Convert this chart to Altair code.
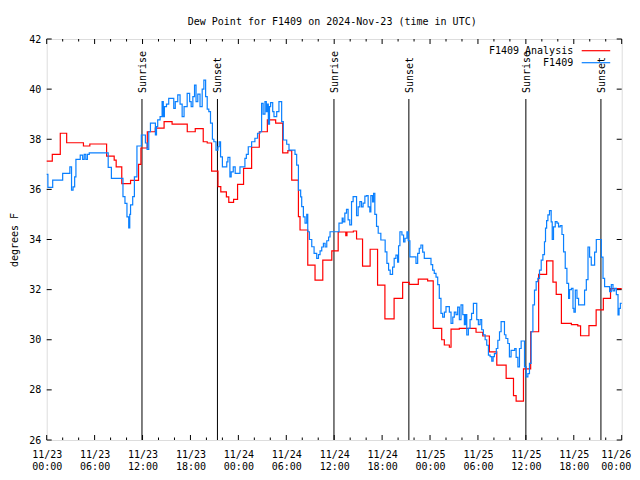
import altair as alt
import pandas as pd

# ---------------- data (hours since 2024-11-23 00:00 UTC, degrees F) ----------------
red_hours = [0, 0.7, 1.7, 2.5, 4.6, 5.4, 7.5, 8.45, 8.7, 9.4, 10.5, 11.5, 11.8, 12.6, 13.6,
             14.7, 15.7, 17.6, 18.6, 19.6, 20.1, 20.65, 21.45, 21.8, 22.5, 22.8, 23.4, 23.9,
             24.65, 25.66, 26.62, 27.63, 28.67, 29.55, 30.2, 30.68, 31.52, 31.72, 32.69, 33.6,
             34.57, 35.7, 36.5, 37.45, 37.6, 38.4, 38.8, 39.55, 40.5, 41.43, 42.35, 43.5, 44.57,
             45.4, 46.53, 47.7, 48.4, 49.46, 49.79, 50.42, 50.63, 51.67, 53.76, 54.6, 55.43,
             56.36, 57.53, 58.45, 58.78, 59.7, 60.6, 61.6, 62.6, 63.39, 63.8, 64.45, 65.7, 66.5,
             66.85, 67.9, 68.8, 69.7, 70.6, 72]
red_values = [37.13, 37.40, 38.24, 37.86, 37.73, 37.81, 37.33, 37.17, 36.9, 36.23, 36.36, 37.0,
              37.65, 38.3, 38.44, 38.70, 38.6, 38.3, 38.42, 37.9, 37.85, 36.73, 36.11, 35.9,
              35.7, 35.48, 35.6, 36.2, 36.84, 37.68, 38.3, 38.77, 38.64, 37.46, 37.55, 36.37,
              34.91, 34.38, 32.98, 32.38, 33.18, 33.55, 34.3, 34.15, 34.3, 34.34, 34.02, 32.94,
              33.61, 32.18, 30.83, 31.65, 32.29, 32.21, 32.42, 32.35, 30.45, 30.0, 29.79, 29.7,
              30.42, 30.45, 30.3, 30.15, 29.52, 28.99, 28.46, 27.77, 27.55, 28.84, 30.32, 32.61,
              33.15, 32.3, 31.81, 30.65, 30.6, 30.55, 30.16, 30.56, 31.19, 31.65, 32.04, 32.04]

blue_hours = [0, 0.15, 0.75, 2.0, 2.9, 3.11, 3.3, 3.5, 3.66, 4.2, 4.5, 4.7, 4.9, 5.1, 5.33, 7.7,
              8.1, 9.55, 9.8, 10.05, 10.27, 10.4, 10.5, 10.77, 10.98, 11.3, 11.85, 12.36, 12.57,
              12.78, 12.99, 13.61, 13.75, 13.9, 14.2, 14.45, 14.6, 14.74, 15.0, 15.28, 15.91,
              16.1, 16.41, 16.7, 16.96, 17.2, 17.59, 17.9, 18.09, 18.3, 18.51, 18.7, 18.92, 19.2,
              19.47, 19.68, 19.9, 20.1, 20.3, 20.51, 20.75, 20.93, 21.2, 21.45, 21.6, 21.77,
              22.0, 22.55, 22.69, 22.94, 23.1, 23.36, 23.6, 24.2, 24.82, 25.0, 25.24, 25.66,
              26.07, 26.4, 26.7, 26.91, 27.1, 27.33, 27.5, 27.6, 27.75, 27.9, 28.04, 28.3, 28.46,
              28.8, 29.08, 29.42, 29.63, 30.05, 30.34, 31.09, 31.3, 31.52, 31.8, 31.93, 32.14,
              32.35, 32.56, 32.69, 32.9, 33.19, 33.48, 33.81, 34.03, 34.23, 34.44, 34.65, 34.86,
              35.07, 35.3, 35.48, 36.6, 37.0, 37.12, 37.33, 37.54, 37.74, 37.95, 38.17, 38.37,
              38.8, 39.0, 39.21, 39.42, 39.62, 39.84, 40.05, 40.25, 40.46, 40.59, 40.8, 40.93,
              41.09, 41.3, 41.51, 41.84, 42.38, 42.6, 42.81, 43.01, 43.31, 43.51, 43.73, 43.94,
              44.06, 44.23, 44.48, 44.69, 44.86, 45.11, 45.27, 45.48, 46.24, 46.45, 46.65, 46.86,
              47.08, 47.28, 48.12, 48.33, 48.53, 48.75, 48.96, 49.16, 49.37, 49.58, 49.8, 50.0,
              50.42, 50.63, 50.85, 51.04, 51.25, 51.46, 51.67, 51.88, 52.1, 52.3, 52.45, 52.6,
              52.8, 53.01, 53.2, 53.43, 53.85, 54.05, 54.27, 54.47, 54.68, 54.9, 55.1, 55.31,
              55.52, 55.73, 55.9, 56.06, 56.3, 56.49, 56.7, 56.9, 57.32, 57.5, 57.74, 57.94,
              58.15, 58.6, 58.78, 59.0, 59.2, 59.41, 59.83, 60.04, 60.25, 60.45, 60.66, 60.88,
              61.08, 61.29, 61.5, 61.71, 61.92, 62.13, 62.33, 62.46, 62.6, 62.76, 62.96, 63.17,
              63.3, 63.46, 63.68, 63.9, 64.09, 64.3, 64.52, 64.72, 64.93, 65.14, 65.35, 65.47,
              65.7, 65.9, 66.02, 66.19, 66.4, 66.6, 67.35, 67.57, 67.78, 67.98, 68.19, 68.61,
              68.82, 69.45, 69.66, 69.86, 70.49, 70.7, 70.91, 71.11, 71.33, 71.54, 71.67, 71.83, 72]
blue_values = [36.6, 36.08, 36.37, 36.64, 36.9, 35.97, 36.1, 36.5, 37.2, 37.37, 37.2, 37.4, 37.2,
               37.4, 37.46, 36.88, 36.44, 35.71, 35.44, 34.9, 34.46, 35.0, 35.38, 35.71, 36.5,
               37.73, 38.17, 37.85, 37.6, 38.3, 38.64, 38.17, 38.5, 38.77, 38.9, 39.5, 38.9, 39.3,
               39.4, 39.63, 39.23, 39.5, 39.77, 39.4, 38.9, 39.3, 39.83, 39.5, 39.3, 39.7, 40.16,
               39.5, 39.8, 39.3, 40.0, 40.36, 39.7, 39.2, 39.1, 38.64, 38.0, 37.9, 37.57, 37.7,
               37.9, 37.3, 36.9, 37.1, 37.28, 36.5, 36.7, 36.9, 36.64, 36.9, 37.24, 37.4, 37.7,
               37.9, 38.04, 38.24, 38.3, 39.43, 39.0, 39.5, 39.1, 39.4, 38.6, 39.3, 39.46, 39.1,
               38.9, 39.1, 39.5, 38.7, 37.97, 37.8, 37.57, 37.4, 36.97, 35.97, 35.7, 35.31, 34.9,
               34.65, 35.0, 34.31, 34.0, 33.71, 33.45, 33.25, 33.4, 33.55, 33.7, 33.85, 33.7,
               33.95, 34.1, 34.31, 34.65, 34.85, 34.7, 35.05, 35.2, 34.78, 34.58, 35.51, 35.71,
               34.95, 35.3, 35.51, 35.3, 35.45, 35.73, 35.75, 35.3, 35.1, 35.75, 35.5, 35.84,
               35.0, 34.52, 34.25, 33.98, 33.51, 33.05, 32.78, 32.61, 32.9, 33.25, 33.38, 33.1,
               33.75, 34.31, 34.18, 33.9, 34.05, 34.31, 33.95, 33.31, 33.05, 33.45, 33.65, 33.78,
               33.5, 33.25, 33.0, 32.78, 32.65, 32.5, 32.2, 31.65, 31.05, 30.9, 31.1, 31.32,
               31.1, 30.65, 30.9, 31.1, 31.0, 31.3, 30.8, 31.39, 31.0, 30.6, 31.0, 30.19, 30.45,
               30.8, 31.05, 31.45, 30.8, 30.6, 30.8, 30.4, 30.2, 30.0, 29.78, 29.39, 29.33,
               29.15, 29.33, 29.45, 29.65, 29.98, 30.32, 30.72, 30.2, 30.05, 29.85, 29.32, 29.58,
               29.65, 29.3, 28.92, 29.65, 29.95, 28.92, 28.52, 28.65, 29.06, 30.32, 31.39, 31.98,
               32.32, 32.45, 32.78, 33.18, 33.4, 33.91, 34.45, 34.75, 34.98, 35.15, 34.7, 34.0,
               34.5, 34.71, 34.65, 34.5, 34.55, 34.2, 33.51, 32.85, 32.25, 31.65, 32.0, 32.05,
               31.25, 31.1, 31.98, 31.65, 31.39, 31.98, 32.4, 33.7, 33.3, 32.98, 33.5, 34.0,
               33.3, 32.45, 32.12, 31.92, 32.2, 31.95, 32.05, 31.8, 30.99, 31.25, 31.45, 31.45]

series_names = ["F1409 Analysis", "F1409"]
event_labels = ["Sunrise", "Sunset", "Sunrise", "Sunset", "Sunrise", "Sunset"]
event_hours = [11.93, 21.38, 35.97, 45.35, 60.0, 69.4]
x_major = list(range(0, 73, 6))
x_minor = [h for h in range(0, 73, 2) if h % 6 != 0]
y_major = list(range(26, 43, 2))

# ---------------- styling ----------------
FONT = "DejaVu Sans Mono"
COLORS = ["#ff0000", "#0a80ff"]
W, H = 575, 401

red_df = pd.DataFrame({"h": red_hours, "v": red_values})
blue_df = pd.DataFrame({"h": blue_hours, "v": blue_values})

xs = alt.Scale(domain=[0, 72], nice=False, zero=False)
ys = alt.Scale(domain=[26, 42], nice=False, zero=False)

x_axis = alt.Axis(
    values=x_major,
    labelExpr="['11/' + (23 + floor(datum.value/24)), ((datum.value % 24) < 10 ? '0' : '') + (datum.value % 24) + ':00']",
    title=None, grid=False, ticks=False, domain=False,
    labelFont=FONT, labelFontSize=10, labelColor="black",
    labelPadding=9, labelLineHeight=12, labelFlush=False, labelOverlap=False,
    labelOffset={"condition": {"test": "datum.value >= 72", "value": -6}, "value": 0},
)
y_axis = alt.Axis(
    values=y_major, title="degrees F", grid=False, ticks=False, domain=False,
    labelFont=FONT, labelFontSize=10, labelColor="black", labelPadding=6,
    titleFont=FONT, titleFontSize=10, titleFontWeight="normal", titleColor="black",
    titleX=-29.5, titleY=200.5, titleAngle=270, titleAlign="center", titleBaseline="alphabetic",
)


def X(field="h"):
    return alt.X(f"{field}:Q", scale=xs, axis=x_axis)


def Y(field="v"):
    return alt.Y(f"{field}:Q", scale=ys, axis=y_axis)


red_line = alt.Chart(red_df).mark_line(interpolate="step-after", color=COLORS[0], strokeWidth=1.2).encode(
    x=X(), y=Y())
blue_line = alt.Chart(blue_df).mark_line(interpolate="step-after", color=COLORS[1], strokeWidth=1.2).encode(
    x=X(), y=Y())

ev_df = pd.DataFrame({"h": event_hours, "label": event_labels})
ev_rules = alt.Chart(ev_df).mark_rule(color="black", strokeWidth=1).encode(
    x=X(), y=alt.value(60), y2=alt.value(H))
ev_text = alt.Chart(ev_df).mark_text(
    angle=270, align="left", baseline="middle", font=FONT, fontSize=10, color="black", dy=1
).encode(x=X(), y=alt.value(54), text="label:N")


# inward ticks (gnuplot style), mirrored on all sides
def xticks(vals, length):
    d = pd.DataFrame({"h": vals})
    bot = alt.Chart(d).mark_rule(color="black", strokeWidth=1).encode(
        x=X(), y=alt.value(H), y2=alt.value(H - length))
    top = alt.Chart(d).mark_rule(color="black", strokeWidth=1).encode(
        x=X(), y=alt.value(0), y2=alt.value(length))
    return [bot, top]


ydf = pd.DataFrame({"v": y_major})
yt_left = alt.Chart(ydf).mark_rule(color="black", strokeWidth=1).encode(
    y=Y(), x=alt.value(0), x2=alt.value(5))
yt_right = alt.Chart(ydf).mark_rule(color="black", strokeWidth=1).encode(
    y=Y(), x=alt.value(W), x2=alt.value(W - 5))

# legend (gnuplot style: text then sample line, top right inside)
legend_layers = []
for i, name in enumerate(series_names):
    ldf = pd.DataFrame({"name": [name]})
    yy = 11.7 + 12 * i
    legend_layers.append(
        alt.Chart(ldf).mark_text(align="right", baseline="middle", font=FONT, fontSize=10, color="black").encode(
            text="name:N", x=alt.value(526.5), y=alt.value(yy)))
    legend_layers.append(
        alt.Chart(ldf).mark_rule(color=COLORS[i], strokeWidth=1.2).encode(
            x=alt.value(535), x2=alt.value(563.5), y=alt.value(yy)))

chart = alt.layer(
    ev_rules, *xticks(x_major, 5), *xticks(x_minor, 2.5), yt_left, yt_right,
    red_line, blue_line, ev_text, *legend_layers,
).properties(
    width=W, height=H,
    title=alt.TitleParams("Dew Point for F1409 on 2024-Nov-23 (time in UTC)", font=FONT, fontSize=10,
                          fontWeight="normal", color="black", anchor="middle", baseline="alphabetic",
                          frame="group", offset=15, dx=-2, dy=16),
    autosize=alt.AutoSizeParams(type="none"),
    padding={"left": 38.7, "top": 31, "right": 10.3, "bottom": 32},
).configure_view(stroke="black", strokeWidth=1).configure(background="white")

chart.save("out.html", embed_options={"renderer": "svg", "actions": False})
